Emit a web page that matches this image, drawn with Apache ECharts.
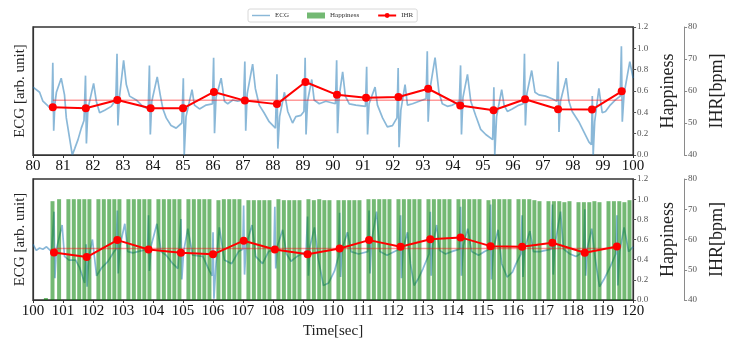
<!DOCTYPE html>
<html>
<head>
<meta charset="utf-8">
<script src="https://cdn.jsdelivr.net/npm/echarts@6/dist/echarts.min.js"></script>
<style>
  html, body { margin: 0; padding: 0; background: #fff; }
  #chart { width: 734px; height: 340px; }
</style>
</head>
<body>
<div id="chart"></div>
<script>
// ---------- ECG trace, 80-100 s (time [s], amplitude in arb. unit 0..1) ----------
const ecgTop = [
  [80.00,0.53],[80.22,0.49],[80.33,0.42],[80.56,0.37],[80.63,0.38],[80.66,0.72],[80.69,0.19],[80.73,0.40],
  [80.78,0.49],[80.94,0.60],[81.05,0.47],[81.11,0.29],[81.22,0.13],[81.31,0.00],[81.39,0.05],[81.50,0.12],
  [81.61,0.21],[81.70,0.27],[81.75,0.62],[81.78,0.09],[81.83,0.36],[82.02,0.56],[82.11,0.42],[82.22,0.33],
  [82.39,0.35],[82.61,0.38],[82.76,0.43],[82.80,0.79],[82.83,0.23],[82.88,0.45],[83.02,0.74],[83.11,0.55],
  [83.22,0.46],[83.44,0.43],[83.66,0.38],[83.84,0.36],[83.88,0.70],[83.91,0.16],[83.96,0.42],[84.14,0.61],
  [84.24,0.47],[84.33,0.36],[84.44,0.29],[84.60,0.23],[84.77,0.21],[84.96,0.25],[85.01,0.60],[85.04,0.00],
  [85.10,0.30],[85.30,0.51],[85.38,0.39],[85.55,0.36],[85.77,0.39],[85.98,0.40],[86.02,0.76],[86.05,0.17],
  [86.10,0.45],[86.27,0.60],[86.38,0.42],[86.49,0.40],[86.66,0.43],[86.82,0.42],[87.02,0.43],[87.06,0.73],
  [87.09,0.19],[87.14,0.48],[87.32,0.71],[87.41,0.52],[87.54,0.39],[87.70,0.33],[87.87,0.26],[88.08,0.21],
  [88.13,0.63],[88.16,0.05],[88.22,0.30],[88.38,0.49],[88.49,0.34],[88.65,0.25],[88.76,0.30],[88.93,0.31],
  [89.03,0.34],[89.07,0.76],[89.10,0.16],[89.15,0.42],[89.29,0.59],[89.37,0.43],[89.54,0.40],[89.76,0.42],
  [90.08,0.40],[90.12,0.74],[90.15,0.17],[90.20,0.45],[90.32,0.65],[90.41,0.46],[90.54,0.40],[90.76,0.39],
  [91.08,0.38],[91.12,0.69],[91.15,0.16],[91.20,0.40],[91.40,0.53],[91.48,0.39],[91.65,0.29],[91.81,0.22],
  [91.98,0.23],[92.13,0.29],[92.17,0.68],[92.20,0.06],[92.26,0.35],[92.40,0.55],[92.48,0.39],[92.65,0.40],
  [92.87,0.42],[93.10,0.44],[93.14,0.81],[93.17,0.26],[93.22,0.50],[93.40,0.76],[93.53,0.49],[93.64,0.40],
  [93.81,0.38],[93.98,0.39],[94.21,0.42],[94.25,0.70],[94.28,0.16],[94.33,0.45],[94.48,0.63],[94.59,0.42],
  [94.75,0.31],[94.92,0.20],[95.09,0.16],[95.32,0.12],[95.36,0.53],[95.39,0.00],[95.45,0.30],[95.62,0.51],
  [95.70,0.39],[95.81,0.34],[95.97,0.36],[96.20,0.39],[96.34,0.40],[96.38,0.79],[96.41,0.23],[96.46,0.48],
  [96.62,0.66],[96.73,0.49],[96.86,0.47],[97.08,0.46],[97.30,0.44],[97.46,0.42],[97.50,0.73],[97.53,0.18],
  [97.58,0.42],[97.77,0.60],[97.86,0.42],[97.97,0.34],[98.19,0.26],[98.36,0.18],[98.53,0.10],[98.61,0.08],
  [98.64,0.46],[98.67,0.00],[98.72,0.26],[98.86,0.52],[98.97,0.33],[99.08,0.34],[99.24,0.39],[99.41,0.43],
  [99.57,0.46],[99.61,0.85],[99.64,0.26],[99.70,0.48],[99.89,0.73],[100.00,0.60]
];

// ---------- ECG trace, 100-120 s ----------
const ecgBottom = [
  [100.00,0.46],[100.11,0.41],[100.22,0.43],[100.33,0.42],[100.45,0.44],[100.62,0.40],[100.70,0.73],[100.73,0.18],
  [100.78,0.42],[100.97,0.62],[101.05,0.36],[101.20,0.33],[101.42,0.33],[101.55,0.27],[101.72,0.14],[101.77,0.46],
  [101.80,0.11],[101.86,0.35],[101.98,0.50],[102.12,0.20],[102.30,0.27],[102.50,0.32],[102.70,0.40],[102.77,0.42],
  [102.81,0.74],[102.84,0.22],[102.90,0.45],[103.06,0.63],[103.16,0.40],[103.33,0.39],[103.66,0.41],[103.82,0.42],
  [103.85,0.70],[103.88,0.24],[103.94,0.45],[104.13,0.63],[104.27,0.40],[104.44,0.37],[104.66,0.30],[104.83,0.26],
  [104.93,0.67],[104.96,0.17],[105.02,0.40],[105.16,0.59],[105.32,0.37],[105.66,0.36],[105.88,0.24],[105.97,0.20],
  [106.00,0.56],[106.03,0.01],[106.10,0.30],[106.21,0.60],[106.38,0.33],[106.62,0.30],[106.85,0.40],[106.99,0.42],
  [107.02,0.78],[107.05,0.21],[107.10,0.45],[107.30,0.62],[107.42,0.36],[107.65,0.30],[107.85,0.40],[108.03,0.42],
  [108.06,0.77],[108.09,0.26],[108.14,0.44],[108.32,0.58],[108.45,0.38],[108.60,0.32],[108.80,0.36],[109.10,0.40],
  [109.15,0.69],[109.18,0.20],[109.23,0.44],[109.38,0.60],[109.50,0.35],[109.68,0.12],[109.85,0.14],[110.05,0.24],
  [110.18,0.36],[110.22,0.72],[110.25,0.19],[110.30,0.42],[110.48,0.56],[110.60,0.40],[110.85,0.38],[111.16,0.40],
  [111.20,0.74],[111.23,0.22],[111.28,0.48],[111.45,0.73],[111.56,0.40],[111.80,0.37],[112.05,0.40],[112.21,0.42],
  [112.25,0.70],[112.28,0.18],[112.33,0.42],[112.48,0.56],[112.58,0.30],[112.70,0.12],[112.85,0.18],[113.00,0.26],
  [113.20,0.38],[113.24,0.73],[113.27,0.20],[113.32,0.45],[113.45,0.62],[113.55,0.41],[113.75,0.38],[113.95,0.40],
  [114.21,0.42],[114.25,0.77],[114.28,0.20],[114.34,0.45],[114.49,0.59],[114.62,0.40],[114.85,0.37],[115.05,0.40],
  [115.21,0.42],[115.25,0.79],[115.28,0.17],[115.34,0.42],[115.50,0.58],[115.62,0.30],[115.80,0.19],[115.98,0.23],
  [116.10,0.30],[116.26,0.38],[116.30,0.70],[116.33,0.19],[116.38,0.42],[116.56,0.57],[116.68,0.40],[116.90,0.40],
  [117.27,0.42],[117.31,0.79],[117.34,0.21],[117.39,0.45],[117.58,0.73],[117.68,0.42],[117.90,0.38],[118.10,0.36],
  [118.35,0.40],[118.39,0.75],[118.42,0.20],[118.47,0.42],[118.62,0.59],[118.75,0.32],[118.88,0.11],[119.05,0.18],
  [119.25,0.28],[119.42,0.38],[119.46,0.70],[119.49,0.12],[119.55,0.40],[119.70,0.60],[119.85,0.40],[120.00,0.44]
];

// ---------- instantaneous heart rate at each R peak [bpm] ----------
const ihrTop = [
  [80.66,54.9],[81.76,54.6],[82.81,57.2],[83.92,54.6],[85.00,54.6],[86.03,59.7],[87.06,57.0],[88.13,55.9],
  [89.08,62.8],[90.13,58.8],[91.10,57.9],[92.18,58.1],[93.17,60.7],[94.24,55.5],[95.35,54.0],[96.40,57.4],
  [97.50,54.3],[98.63,54.2],[99.62,59.9]
];
const ihrBottom = [
  [100.70,55.7],[101.79,54.2],[102.81,59.8],[103.85,56.7],[104.93,55.6],[106.00,55.1],[107.02,59.6],[108.06,56.7],
  [109.15,55.1],[110.22,57.0],[111.20,59.8],[112.25,57.6],[113.24,60.1],[114.25,60.7],[115.25,57.8],[116.30,57.6],
  [117.31,58.9],[118.39,55.6],[119.46,57.7]
];
// mean IHR of each window
const ihrMeanTop = 57.1;
const ihrMeanBottom = 57.0;

// ---------- happiness score per video frame, 100-120 s ----------
const happinessBottom = [
  [100.43,0.02],[100.65,0.98],[100.87,1.00],
  [101.18,1.00],[101.36,1.00],[101.54,1.00],[101.71,1.00],[101.88,1.00],
  [102.18,1.00],[102.36,1.00],[102.54,1.00],[102.71,1.00],[102.88,1.00],
  [103.18,1.00],[103.36,1.00],[103.54,1.00],[103.71,1.00],[103.88,1.00],
  [104.18,1.00],[104.36,1.00],[104.54,1.00],[104.71,1.00],[104.88,1.00],
  [105.18,1.00],[105.36,1.00],[105.54,1.00],[105.71,1.00],[105.88,1.00],
  [106.18,0.99],[106.36,1.00],[106.54,1.00],[106.71,1.00],[106.88,1.00],
  [107.18,0.99],[107.36,0.99],[107.54,0.99],[107.71,0.99],[107.88,0.99],
  [108.18,1.00],[108.36,0.99],[108.54,0.99],[108.71,0.99],[108.88,0.99],
  [109.18,1.00],[109.36,0.99],[109.54,1.00],[109.71,0.99],[109.88,0.99],
  [110.18,0.99],[110.36,0.99],[110.54,0.99],[110.71,0.99],[110.88,0.99],
  [111.18,1.00],[111.36,1.00],[111.54,1.00],[111.71,1.00],[111.88,1.00],
  [112.18,1.00],[112.36,1.00],[112.54,1.00],[112.71,1.00],[112.88,1.00],
  [113.18,1.00],[113.36,1.00],[113.54,1.00],[113.71,1.00],[113.88,1.00],
  [114.18,1.00],[114.36,1.00],[114.54,1.00],[114.71,1.00],[114.88,1.00],
  [115.18,0.99],[115.36,1.00],[115.54,1.00],[115.71,1.00],[115.88,1.00],
  [116.18,1.00],[116.36,1.00],[116.54,1.00],[116.71,0.99],[116.88,0.98],
  [117.18,0.98],[117.36,0.98],[117.54,0.98],[117.71,0.97],[117.88,0.98],
  [118.18,0.97],[118.36,0.97],[118.54,0.97],[118.71,0.98],[118.88,0.97],
  [119.18,0.98],[119.36,0.98],[119.54,0.98],[119.71,0.97],[119.88,0.99]
];

const xRangeTop = [80, 100];
const xRangeBottom = [100, 120];
const happinessTicks = [0, 1.2, 0.2];
const ihrTicks = [40, 80, 10];

const SERIF = "'Liberation Serif', 'DejaVu Serif', serif";
const ECG_COLOR = 'rgba(31,119,180,0.52)';
const HAPPY_COLOR = 'rgba(0,128,0,0.55)';
const IHR_COLOR = '#ff0000';
const MEAN_COLOR = 'rgba(255,0,0,0.4)';

function xAxisFor(grid, range, withName) {
  const ax = {
    gridIndex: grid, type: 'value', min: range[0], max: range[1], interval: 1,
    axisLine: { show: true, onZero: false, lineStyle: { color: '#333', width: 1.2 } },
    axisTick: { show: true, length: 3, lineStyle: { color: '#333' } },
    axisLabel: { fontFamily: SERIF, fontSize: 15, color: '#111', margin: 4 },
    splitLine: { show: false }
  };
  if (withName) {
    ax.name = 'Time[sec]';
    ax.nameLocation = 'middle';
    ax.nameGap = 24;
    ax.nameTextStyle = { fontFamily: SERIF, fontSize: 15, color: '#222' };
  }
  return ax;
}

function yAxesFor(grid) {
  return [
    {
      gridIndex: grid, type: 'value', position: 'left', min: 0, max: 1,
      axisLine: { show: true, lineStyle: { color: '#333', width: 1.2 } },
      axisTick: { show: false }, axisLabel: { show: false }, splitLine: { show: false },
      name: 'ECG [arb. unit]', nameLocation: 'middle', nameGap: 5, nameRotate: 90,
      nameTextStyle: { fontFamily: SERIF, fontSize: 15, color: '#222' }
    },
    {
      gridIndex: grid, type: 'value', position: 'right',
      min: happinessTicks[0], max: happinessTicks[1], interval: happinessTicks[2],
      axisLine: { show: true, lineStyle: { color: '#333', width: 1.2 } },
      axisTick: { show: true, length: 3, lineStyle: { color: '#555' } },
      axisLabel: { fontFamily: SERIF, fontSize: 9, color: '#555', margin: 4,
                   formatter: v => v.toFixed(1) },
      splitLine: { show: false },
      name: 'Happiness', nameLocation: 'middle', nameGap: 17, nameRotate: 90,
      nameTextStyle: { fontFamily: SERIF, fontSize: 18, color: '#222' }
    },
    {
      gridIndex: grid, type: 'value', position: 'right', offset: 51,
      min: ihrTicks[0], max: ihrTicks[1], interval: ihrTicks[2],
      axisLine: { show: true, lineStyle: { color: '#8a8a8a', width: 1 } },
      axisTick: { show: true, length: 3, lineStyle: { color: '#8a8a8a' } },
      axisLabel: { fontFamily: SERIF, fontSize: 9, color: '#555', margin: 4 },
      splitLine: { show: false },
      name: 'IHR[bpm]', nameLocation: 'middle', nameGap: 18, nameRotate: 90,
      nameTextStyle: { fontFamily: SERIF, fontSize: 18, color: '#222' }
    }
  ];
}

function meanLine(data, mean) {
  return [[data[0][0], mean], [data[data.length - 1][0], mean]];
}

const chart = echarts.init(document.getElementById('chart'), null, { renderer: 'canvas' });

chart.setOption({
  animation: false,
  backgroundColor: '#fff',
  legend: {
    top: 9, left: 248,
    itemWidth: 18, itemHeight: 6, itemGap: 18,
    padding: [3, 4],
    borderColor: '#d8d8d8', borderWidth: 1, borderRadius: 2,
    textStyle: { fontFamily: SERIF, fontSize: 7, color: '#333' },
    data: [
      { name: 'ECG', icon: 'path://M0,0 L20,0 L20,1.6 L0,1.6 Z' },
      { name: 'Happiness', icon: 'rect' },
      { name: 'IHR' }
    ]
  },
  grid: [
    { left: 33, top: 27, width: 601, height: 128, show: true, borderColor: '#333', borderWidth: 1.3, backgroundColor: 'transparent' },
    { left: 33, top: 179, width: 601, height: 129, show: true, borderColor: '#333', borderWidth: 1.3, backgroundColor: 'transparent' }
  ],
  xAxis: [xAxisFor(0, xRangeTop, false), xAxisFor(1, xRangeBottom, true)],
  yAxis: yAxesFor(0).concat(yAxesFor(1)),
  series: [
    { name: 'ECG', type: 'line', xAxisIndex: 0, yAxisIndex: 0, data: ecgTop, symbol: 'none',
      lineStyle: { color: ECG_COLOR, width: 1.7 }, itemStyle: { color: ECG_COLOR }, z: 1 },
    { name: 'IHR mean', type: 'line', xAxisIndex: 0, yAxisIndex: 2, data: meanLine(ihrTop, ihrMeanTop),
      symbol: 'none', lineStyle: { color: MEAN_COLOR, width: 1.5 }, z: 3 },
    { name: 'IHR', type: 'line', xAxisIndex: 0, yAxisIndex: 2, data: ihrTop,
      symbol: 'circle', symbolSize: 8, lineStyle: { color: IHR_COLOR, width: 2 },
      itemStyle: { color: IHR_COLOR }, z: 4 },

    { name: 'ECG', type: 'line', xAxisIndex: 1, yAxisIndex: 3, data: ecgBottom, symbol: 'none',
      lineStyle: { color: ECG_COLOR, width: 1.7 }, itemStyle: { color: ECG_COLOR }, z: 1 },
    { name: 'Happiness', type: 'bar', xAxisIndex: 1, yAxisIndex: 4, data: happinessBottom,
      barWidth: 4, itemStyle: { color: HAPPY_COLOR }, z: 2 },
    { name: 'IHR mean', type: 'line', xAxisIndex: 1, yAxisIndex: 5, data: meanLine(ihrBottom, ihrMeanBottom),
      symbol: 'none', lineStyle: { color: MEAN_COLOR, width: 1.5 }, z: 3 },
    { name: 'IHR', type: 'line', xAxisIndex: 1, yAxisIndex: 5, data: ihrBottom,
      symbol: 'circle', symbolSize: 8, lineStyle: { color: IHR_COLOR, width: 2 },
      itemStyle: { color: IHR_COLOR }, z: 4 }
  ]
});
</script>
</body>
</html>
